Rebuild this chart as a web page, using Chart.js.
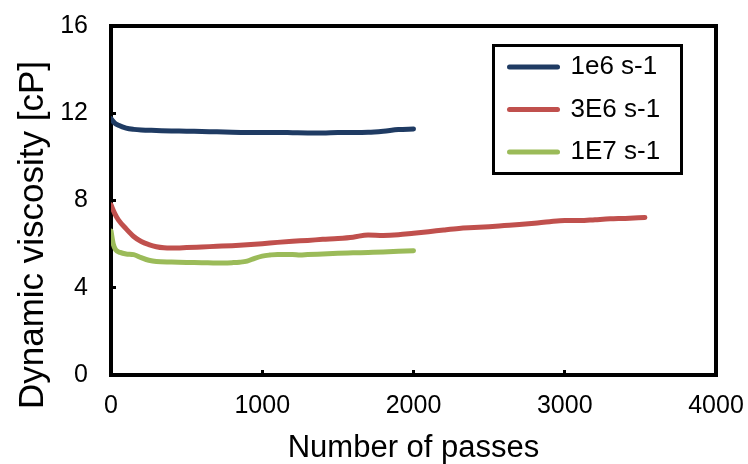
<!DOCTYPE html>
<html>
<head>
<meta charset="utf-8">
<script src="https://cdn.jsdelivr.net/npm/chart.js@4/dist/chart.umd.min.js"></script>
<style>
  html, body { margin: 0; padding: 0; background: #ffffff; }
  #wrap { width: 748px; height: 464px; }
</style>
</head>
<body>
<div id="wrap"><canvas id="c" width="748" height="464"></canvas></div>
<script>
// ---- data ----
const seriesLabels = ['1e6 s-1', '3E6 s-1', '1E7 s-1'];

const passes1e6 = [0, 25, 50, 100, 150, 200, 300, 400, 500, 600, 700, 800, 900, 1000, 1100, 1200, 1300, 1400, 1500, 1600, 1700, 1800, 1900, 2000];
const visc1e6   = [11.75, 11.55, 11.45, 11.32, 11.26, 11.23, 11.21, 11.19, 11.18, 11.16, 11.15, 11.13, 11.12, 11.12, 11.12, 11.11, 11.10, 11.10, 11.12, 11.12, 11.13, 11.18, 11.25, 11.28];

const passes3e6 = [0, 25, 50, 100, 150, 200, 250, 300, 350, 400, 500, 600, 700, 800, 900, 1000, 1100, 1200, 1300, 1400, 1500, 1600, 1700, 1800, 1900, 2000, 2100, 2200, 2300, 2400, 2500, 2600, 2700, 2800, 2900, 3000, 3100, 3200, 3300, 3400, 3530];
const visc3e6   = [7.8, 7.4, 7.1, 6.7, 6.35, 6.12, 5.98, 5.88, 5.83, 5.82, 5.84, 5.87, 5.9, 5.93, 5.97, 6.02, 6.08, 6.13, 6.17, 6.22, 6.26, 6.32, 6.42, 6.4, 6.43, 6.5, 6.57, 6.65, 6.72, 6.76, 6.8, 6.85, 6.9, 6.96, 7.03, 7.08, 7.08, 7.12, 7.16, 7.18, 7.22];

const passes1e7 = [0, 15, 30, 60, 100, 150, 200, 250, 300, 400, 500, 600, 700, 800, 850, 900, 950, 1000, 1050, 1100, 1200, 1250, 1300, 1400, 1500, 1600, 1700, 1800, 1900, 2000];
const visc1e7   = [6.6, 6.0, 5.75, 5.62, 5.55, 5.52, 5.38, 5.26, 5.2, 5.18, 5.16, 5.15, 5.13, 5.15, 5.17, 5.22, 5.35, 5.45, 5.5, 5.53, 5.53, 5.5, 5.52, 5.55, 5.58, 5.6, 5.62, 5.64, 5.67, 5.7];

const xTicks = [0, 1000, 2000, 3000, 4000];
const yTicks = [0, 4, 8, 12, 16];
const xTitle = 'Number of passes';
const yTitle = 'Dynamic viscosity [cP]';

// ---- styling ----
const colors = ['#1F3B63', '#C0504D', '#9BBB59'];
const FONT = "'Liberation Sans', Arial, sans-serif";
Chart.defaults.font.family = FONT;
Chart.defaults.color = '#000000';

function pts(xs, ys) { return xs.map((x, i) => ({ x: x, y: ys[i] })); }
function zeroPad(s) { s.paddingTop = 0; s.paddingBottom = 0; s.paddingLeft = 0; s.paddingRight = 0; }

const bgPlugin = {
  id: 'bg',
  beforeDraw(chart) {
    const ctx = chart.ctx;
    ctx.save();
    ctx.fillStyle = '#ffffff';
    ctx.fillRect(0, 0, chart.width, chart.height);
    ctx.restore();
  },
  beforeDatasetsDraw(chart) {
    const { ctx, chartArea: a } = chart;
    ctx.save();
    ctx.strokeStyle = '#000000';
    ctx.lineWidth = 4;
    ctx.strokeRect(a.left, a.top, a.right - a.left, a.bottom - a.top);
    ctx.restore();
  },
  afterLayout(chart) {
    const lg = chart.legend;
    if (lg) {
      const w = lg.width;
      lg.left = 493; lg.right = 493 + w;
      lg.top = 37.5; lg.bottom = 37.5 + 400;
    }
  },
  afterDraw(chart) {
    const ctx = chart.ctx;
    ctx.save();
    // legend frame
    ctx.strokeStyle = '#000000';
    ctx.lineWidth = 3;
    ctx.strokeRect(493.5, 45.5, 188, 128);
    // y axis title
    ctx.translate(43, 235);
    ctx.rotate(-Math.PI / 2);
    ctx.font = '35px ' + FONT;
    ctx.fillStyle = '#000000';
    ctx.textAlign = 'center';
    ctx.textBaseline = 'alphabetic';
    ctx.fillText(yTitle, 0, 0);
    ctx.restore();
  }
};

const data = {
  datasets: [
    { label: seriesLabels[0], data: pts(passes1e6, visc1e6) },
    { label: seriesLabels[1], data: pts(passes3e6, visc3e6) },
    { label: seriesLabels[2], data: pts(passes1e7, visc1e7) }
  ].map((d, i) => Object.assign(d, {
    borderColor: colors[i],
    backgroundColor: colors[i],
    borderWidth: 5,
    borderCapStyle: 'round',
    borderJoinStyle: 'round',
    pointRadius: 0,
    pointHoverRadius: 0,
    tension: 0.3,
    cubicInterpolationMode: 'monotone',
    fill: false
  }))
};

new Chart(document.getElementById('c'), {
  type: 'line',
  data: data,
  plugins: [bgPlugin],
  options: {
    responsive: false,
    animation: false,
    devicePixelRatio: 1,
    layout: { autoPadding: false, padding: { top: 26, right: 32, left: 0, bottom: 0 } },
    plugins: {
      tooltip: { enabled: false },
      legend: {
        position: 'chartArea',
        align: 'start',
        labels: {
          usePointStyle: true,
          pointStyle: 'line',
          pointStyleWidth: 48,
          boxWidth: 48,
          padding: 16.5,
          color: '#000000',
          font: { size: 26, family: FONT },
          generateLabels(chart) {
            return chart.data.datasets.map((ds, i) => ({
              text: ds.label,
              fillStyle: ds.borderColor,
              strokeStyle: ds.borderColor,
              lineWidth: 5,
              lineCap: 'round',
              pointStyle: 'line',
              hidden: false,
              datasetIndex: i,
              fontColor: '#000000'
            }));
          }
        }
      }
    },
    scales: {
      x: {
        type: 'linear',
        min: 0, max: 4000,
        afterBuildTicks(s) { s.ticks = xTicks.map(v => ({ value: v })); },
        afterFit(s) { s.height = 89; zeroPad(s); },
        border: { display: false },
        grid: { drawOnChartArea: false, drawTicks: true, tickLength: -5, tickWidth: 3, tickColor: '#000000' },
        ticks: { color: '#000000', font: { size: 25 }, padding: 21, maxRotation: 0, callback: v => String(v) },
        title: { display: true, text: xTitle, color: '#000000', font: { size: 31, lineHeight: 1 }, padding: { top: 0, bottom: 0 } }
      },
      y: {
        type: 'linear',
        min: 0, max: 16,
        afterBuildTicks(s) { s.ticks = yTicks.map(v => ({ value: v })); },
        afterFit(s) { s.width = 111; zeroPad(s); },
        border: { display: false },
        grid: { drawOnChartArea: false, drawTicks: true, tickLength: -5, tickWidth: 3, tickColor: '#000000' },
        ticks: { color: '#000000', font: { size: 25 }, padding: 28, callback: v => String(v) }
      }
    }
  }
});
</script>
</body>
</html>
